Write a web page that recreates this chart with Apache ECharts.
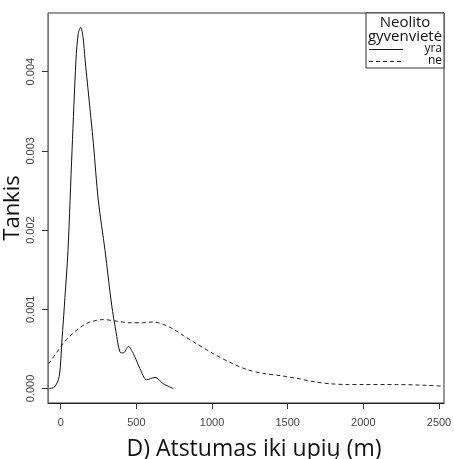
<!DOCTYPE html>
<html>
<head>
<meta charset="utf-8">
<script src="https://cdn.jsdelivr.net/npm/echarts@6/dist/echarts.min.js"></script>
<style>
html,body{margin:0;padding:0;background:#fff;}
#chart{width:454px;height:459px;}
</style>
</head>
<body>
<div id="chart"></div>
<script>
// tankio kreives, nuskaitytos nuo paveikslo
var yraX = [-75, -40, -10, 8, 28, 48, 75, 101, 116, 132, 148, 161, 183, 216, 248, 293, 337, 365, 392, 414, 447, 480, 524, 568, 623, 678, 744];
var yraY = [0, 0.00002, 0.00015, 0.0006, 0.00115, 0.00174, 0.00301, 0.00415, 0.00448, 0.00456, 0.00443, 0.00415, 0.00373, 0.00309, 0.00238, 0.00174, 0.00105, 0.00072, 0.00046, 0.00045, 0.00053, 0.00044, 0.00025, 0.00011, 0.00014, 0.00006, 0];
var neX = [-80, 17, 60, 128, 180, 238, 282, 370, 458, 540, 612, 678, 744, 810, 876, 1008, 1119, 1229, 1339, 1460, 1581, 1692, 1780, 1900, 2000, 2220, 2419, 2515];
var neY = [0.00031, 0.00057, 0.00066, 0.00077, 0.00083, 0.00086, 0.00087, 0.00085, 0.00083, 0.00083, 0.00084, 0.00081, 0.00075, 0.00067, 0.00059, 0.00044, 0.00033, 0.00024, 0.00019, 0.00016, 0.00012, 0.00008, 0.00006, 0.00005, 0.00005, 0.00005, 0.00004, 0.00003];
var xTicks = [0, 500, 1000, 1500, 2000, 2500];
var yTicks = [0, 0.001, 0.002, 0.003, 0.004];

function pairs(xs, ys){
  var out = [];
  for(var i=0;i<xs.length;i++){
    out.push([xs[i], ys[i]]);
  }
  return out;
}

var option = {
  backgroundColor:'#fff',
  animation:false,
  grid:{
    left:48, right:10, top:13, bottom:56,
    containLabel:false, outerBoundsMode:'none',
    show:true, borderColor:'#333', borderWidth:1
  },
  xAxis:{
    type:'value',
    min:-84, max:2533,
    name:'D) Atstumas iki upių (m)',
    nameLocation:'middle',
    nameGap:35,
    nameMoveOverlap:false,
    nameTextStyle:{fontFamily:'Open Sans', fontSize:23, color:'#111', padding:[0,0,0,16]},
    axisLine:{show:true, onZero:false, lineStyle:{color:'#222'}},
    axisTick:{show:true, length:6, customValues:xTicks, lineStyle:{color:'#333'}},
    axisLabel:{
      customValues:xTicks, margin:14,
      fontFamily:'Liberation Sans', fontSize:11, color:'#444',
      formatter:function(v){ return String(v); }
    },
    splitLine:{show:false}
  },
  yAxis:{
    type:'value',
    min:-0.000183, max:0.00474,
    name:'Tankis',
    nameLocation:'middle',
    nameGap:24,
    nameMoveOverlap:false,
    nameTextStyle:{fontFamily:'Open Sans', fontSize:22, color:'#111'},
    axisLine:{show:true, onZero:false, lineStyle:{color:'#777'}},
    axisTick:{show:true, length:6, customValues:yTicks, lineStyle:{color:'#333'}},
    axisLabel:{
      customValues:yTicks, rotate:90, margin:12,
      fontFamily:'Liberation Sans', fontSize:11, color:'#444',
      formatter:function(v){ return v.toFixed(3); }
    },
    splitLine:{show:false}
  },
  series:[{
    name:'yra',
    type:'line',
    data:pairs(yraX, yraY),
    smooth:0.3,
    symbol:'none',
    lineStyle:{color:'#111', width:1}
  },{
    name:'ne',
    type:'line',
    data:pairs(neX, neY),
    smooth:0.3,
    symbol:'none',
    lineStyle:{color:'#222', width:1, type:[4,3]}
  }],
  graphic:[
    {type:'rect', shape:{x:366, y:13, width:78, height:55}, style:{fill:'#fff', stroke:'#333', lineWidth:1}},
    {type:'text', x:405, y:23, style:{text:'Neolito', font:'15px "Open Sans"', fill:'#111', align:'center', verticalAlign:'middle'}},
    {type:'text', x:405, y:37, style:{text:'gyvenvietė', font:'15px "Open Sans"', fill:'#111', align:'center', verticalAlign:'middle'}},
    {type:'line', shape:{x1:369, y1:49.5, x2:403, y2:49.5}, style:{stroke:'#111', lineWidth:1}},
    {type:'line', shape:{x1:369, y1:61.5, x2:403, y2:61.5}, style:{stroke:'#222', lineWidth:1, lineDash:[4,3]}},
    {type:'text', x:442, y:49, style:{text:'yra', font:'12px "Open Sans"', fill:'#111', align:'right', verticalAlign:'middle'}},
    {type:'text', x:442, y:61, style:{text:'ne', font:'12px "Open Sans"', fill:'#111', align:'right', verticalAlign:'middle'}}
  ]
};

var myChart = echarts.init(document.getElementById('chart'));
myChart.setOption(option);
</script>
</body>
</html>
